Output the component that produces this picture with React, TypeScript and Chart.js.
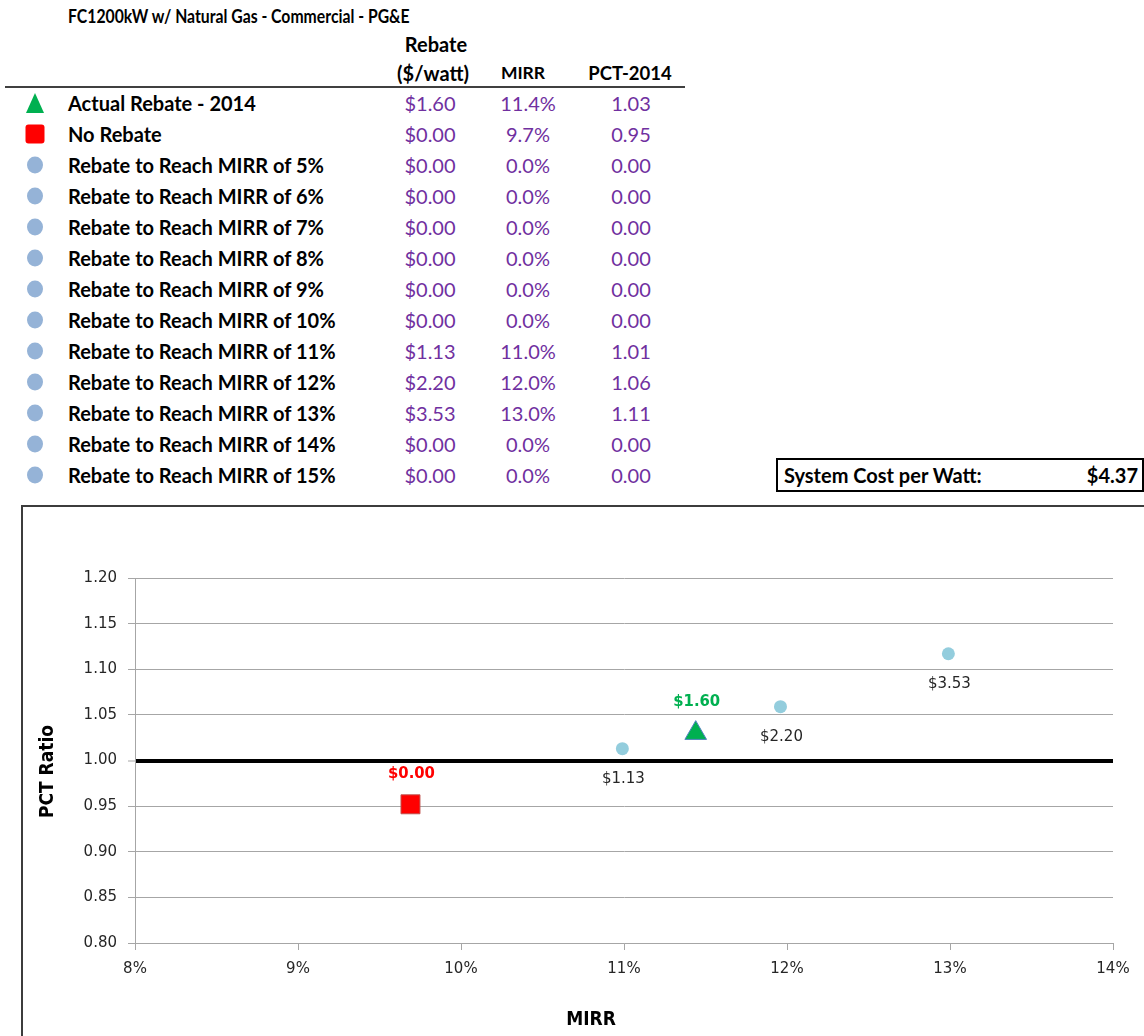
import React, { useEffect, useRef } from "react";
import { Chart, registerables } from "chart.js";

Chart.register(...registerables);

// ---------- table data ----------
const TITLE = "FC1200kW w/ Natural Gas - Commercial - PG&E";
const rowLabels = [
  "Actual Rebate - 2014",
  "No Rebate",
  "Rebate to Reach MIRR of 5%",
  "Rebate to Reach MIRR of 6%",
  "Rebate to Reach MIRR of 7%",
  "Rebate to Reach MIRR of 8%",
  "Rebate to Reach MIRR of 9%",
  "Rebate to Reach MIRR of 10%",
  "Rebate to Reach MIRR of 11%",
  "Rebate to Reach MIRR of 12%",
  "Rebate to Reach MIRR of 13%",
  "Rebate to Reach MIRR of 14%",
  "Rebate to Reach MIRR of 15%",
];
const rowMarkers = [
  "triangle", "square", "circle", "circle", "circle", "circle", "circle",
  "circle", "circle", "circle", "circle", "circle", "circle",
];
const rebateValues = [1.6, 0.0, 0, 0, 0, 0, 0, 0, 1.13, 2.2, 3.53, 0, 0];
const mirrValues = [11.4, 9.7, 0, 0, 0, 0, 0, 0, 11.0, 12.0, 13.0, 0, 0];
const pctValues = [1.03, 0.95, 0, 0, 0, 0, 0, 0, 1.01, 1.06, 1.11, 0, 0];
const systemCostPerWatt = 4.37;

// ---------- chart data ----------
const targetMirr = [10.99, 11.96, 12.99];
const targetPct = [1.013, 1.059, 1.117];
const targetLabels = ["$1.13", "$2.20", "$3.53"];
const actualMirr = [11.44];
const actualPct = [1.03];
const actualLabels = ["$1.60"];
const noRebateMirr = [9.69];
const noRebatePct = [0.952];
const noRebateLabels = ["$0.00"];
const X_MIN = 8;
const X_MAX = 14;
const X_STEP = 1;
const Y_MIN = 0.8;
const Y_MAX = 1.2;
const Y_STEP = 0.05;
const BREAK_EVEN = 1.0;

const PURPLE = "#7030A0";
const TABLE_FONT = "Lato, 'Open Sans', sans-serif";
const CHART_FONT = "'DejaVu Sans', Verdana, sans-serif";
const CHART_FONT_COND = `'DejaVu Sans Condensed', ${CHART_FONT}`;

// horizontal squeeze that makes a bold table string span the given width
function fitScale(text: string, size: number, width: number, weight = 700): number {
  const c = document.createElement("canvas").getContext("2d");
  if (!c) return 1;
  c.font = `${weight} ${size}px ${TABLE_FONT}`;
  const w = c.measureText(text).width;
  return w > 0 ? width / w : 1;
}

const labelPlugin = {
  id: "pointLabels",
  afterDatasetsDraw(chart: any) {
    const ctx = chart.ctx;
    const specs = [
      { labels: targetLabels, color: "#262626", bold: false, dy: 30 },
      { labels: actualLabels, color: "#00B050", bold: true, dy: -31 },
      { labels: noRebateLabels, color: "#FF0000", bold: true, dy: -31 },
    ];
    ctx.save();
    ctx.textAlign = "center";
    ctx.textBaseline = "middle";
    specs.forEach((s, i) => {
      const meta = chart.getDatasetMeta(i);
      meta.data.forEach((el: any, j: number) => {
        ctx.fillStyle = s.color;
        ctx.font = s.bold ? `bold 16.5px ${CHART_FONT_COND}` : `15px ${CHART_FONT}`;
        ctx.fillText(s.labels[j], el.x + 1, el.y + s.dy);
      });
    });
    // axis titles, centred on the chart box
    ctx.fillStyle = "#000";
    ctx.font = `bold 19px ${CHART_FONT_COND}`;
    ctx.fillText("MIRR", chart.width / 2, 513);
    ctx.translate(25, chart.height / 2);
    ctx.rotate(-Math.PI / 2);
    ctx.fillText("PCT Ratio", 0, 0);
    ctx.restore();
  },
};

function ScatterChart() {
  const ref = useRef<HTMLCanvasElement>(null);
  useEffect(() => {
    if (!ref.current) return;
    const isBreakEven = (v: number) => Math.abs(v - BREAK_EVEN) < 1e-6;
    const chart = new Chart(ref.current, {
      type: "scatter",
      data: {
        datasets: [
          {
            label: "Rebate to Reach MIRR",
            data: targetMirr.map((x, i) => ({ x, y: targetPct[i] })),
            pointStyle: "circle",
            pointRadius: 6.5,
            backgroundColor: "#93CDDD",
            borderColor: "#93CDDD",
            borderWidth: 0,
          },
          {
            label: "Actual Rebate - 2014",
            data: actualMirr.map((x, i) => ({ x, y: actualPct[i] })),
            pointStyle: "triangle",
            pointRadius: 12.5,
            backgroundColor: "#00B050",
            borderColor: "#4F81BD",
            borderWidth: 1,
          },
          {
            label: "No Rebate",
            data: noRebateMirr.map((x, i) => ({ x, y: noRebatePct[i] })),
            pointStyle: "rect",
            pointRadius: 13.4,
            backgroundColor: "#FF0000",
            borderColor: "#C0504D",
            borderWidth: 1,
          },
        ],
      },
      options: {
        animation: false,
        responsive: false,
        events: [],
        layout: { padding: { left: 0, top: 71, right: 46, bottom: 0 } },
        plugins: { legend: { display: false }, tooltip: { enabled: false } },
        scales: {
          x: {
            type: "linear",
            min: X_MIN,
            max: X_MAX,
            ticks: {
              stepSize: X_STEP,
              callback: (v: any) => `${v}%`,
              font: { family: CHART_FONT, size: 15 },
              color: "#262626",
              padding: 10,
              maxRotation: 0,
            },
            grid: {
              drawOnChartArea: false,
              drawTicks: true,
              tickLength: 7,
              color: "#A6A6A6",
            },
            border: { display: true, color: "#A6A6A6", width: 1 },
            afterFit: (s: any) => {
              s.height = 93;
            },
          },
          y: {
            type: "linear",
            min: Y_MIN,
            max: Y_MAX,
            ticks: {
              stepSize: Y_STEP,
              callback: (v: any) => Number(v).toFixed(2),
              font: { family: CHART_FONT, size: 15 },
              color: "#262626",
              padding: 11,
            },
            grid: {
              color: (c: any) => (c.tick && isBreakEven(c.tick.value) ? "#000000" : "#A6A6A6"),
              lineWidth: (c: any) => (c.tick && isBreakEven(c.tick.value) ? 4 : 1),
              tickColor: "#A6A6A6",
              tickWidth: 1,
              tickLength: 7,
            },
            border: { display: true, color: "#A6A6A6", width: 1 },
            afterFit: (s: any) => {
              s.width = 112;
            },
          },
        },
      },
      plugins: [labelPlugin],
    } as any);
    return () => chart.destroy();
  }, []);
  return (
    <canvas
      ref={ref}
      width={1136}
      height={529}
      style={{ position: "absolute", left: 0, top: 0, width: 1136, height: 529 }}
    />
  );
}

function Marker({ kind }: { kind: string }) {
  if (kind === "triangle") {
    return (
      <div
        style={{
          width: 0,
          height: 0,
          borderLeft: "9px solid transparent",
          borderRight: "9px solid transparent",
          borderBottom: "20px solid #00B050",
        }}
      />
    );
  }
  if (kind === "square") {
    return (
      <div style={{ width: 19, height: 19, background: "#FF0000", borderRadius: 3 }} />
    );
  }
  return (
    <div style={{ width: 16, height: 17, background: "#95B3D7", borderRadius: "50%" }} />
  );
}

export default function App() {
  useEffect(() => {
    document.body.style.margin = "0";
  }, []);
  const TITLE_SIZE = 19;
  const titleScale = fitScale(TITLE, TITLE_SIZE, 342);
  const rowY = (i: number) => 103 + i * 31;
  const textBox = (cy: number, h = 26) => ({
    position: "absolute" as const,
    top: cy - h / 2,
    height: h,
    lineHeight: `${h}px`,
    whiteSpace: "nowrap" as const,
  });
  const cell = (cx: number, cy: number, text: string, extra: any = {}) => (
    <div
      style={{
        ...textBox(cy),
        left: cx - 60,
        width: 120,
        textAlign: "center",
        fontFamily: TABLE_FONT,
        fontSize: 20,
        color: PURPLE,
        ...extra,
      }}
    >
      {text}
    </div>
  );
  const head = { color: "#000", fontWeight: 700, fontSize: 20 };
  return (
    <div
      style={{
        position: "absolute",
        left: 0,
        top: 0,
        width: 1144,
        height: 1036,
        overflow: "hidden",
        background: "#fff",
        fontFamily: TABLE_FONT,
      }}
    >
      <div
        style={{
          ...textBox(16),
          left: 68,
          fontWeight: 700,
          fontSize: TITLE_SIZE,
          color: "#000",
          transform: `scaleX(${titleScale})`,
          transformOrigin: "left center",
        }}
      >
        {TITLE}
      </div>
      {cell(436, 44, "Rebate", head)}
      {cell(433, 73, "($/watt)", head)}
      {cell(523, 73, "MIRR", { ...head, fontSize: 17.5 })}
      {cell(630, 73, "PCT-2014", { ...head, fontSize: 18.5 })}
      <div
        style={{
          position: "absolute",
          left: 5,
          top: 86,
          width: 680,
          height: 2,
          background: "#404040",
        }}
      />
      {rowLabels.map((label, i) => (
        <React.Fragment key={label}>
          <div
            style={{
              position: "absolute",
              left: 35,
              top: rowY(i),
              transform: "translate(-50%, -50%)",
            }}
          >
            <Marker kind={rowMarkers[i]} />
          </div>
          <div
            style={{
              ...textBox(rowY(i)),
              left: 68,
              fontWeight: 700,
              fontSize: 20,
              color: "#000",
            }}
          >
            {label}
          </div>
          {cell(430, rowY(i), `$${rebateValues[i].toFixed(2)}`)}
          {cell(528, rowY(i), `${mirrValues[i].toFixed(1)}%`)}
          {cell(631, rowY(i), pctValues[i].toFixed(2))}
        </React.Fragment>
      ))}
      <div
        style={{
          position: "absolute",
          left: 776,
          top: 458,
          width: 1144 - 776 - 4,
          height: 30,
          border: "2px solid #000",
          fontFamily: TABLE_FONT,
          fontWeight: 700,
          fontSize: 20,
          lineHeight: "30px",
        }}
      >
        <span style={{ position: "absolute", left: 6 }}>System Cost per Watt:</span>
        <span style={{ position: "absolute", right: 4 }}>${systemCostPerWatt.toFixed(2)}</span>
      </div>
      <div
        style={{
          position: "absolute",
          left: 21,
          top: 505,
          width: 1136,
          height: 529,
          border: "2px solid #3C3C3C",
        }}
      >
        <ScatterChart />
      </div>
    </div>
  );
}
